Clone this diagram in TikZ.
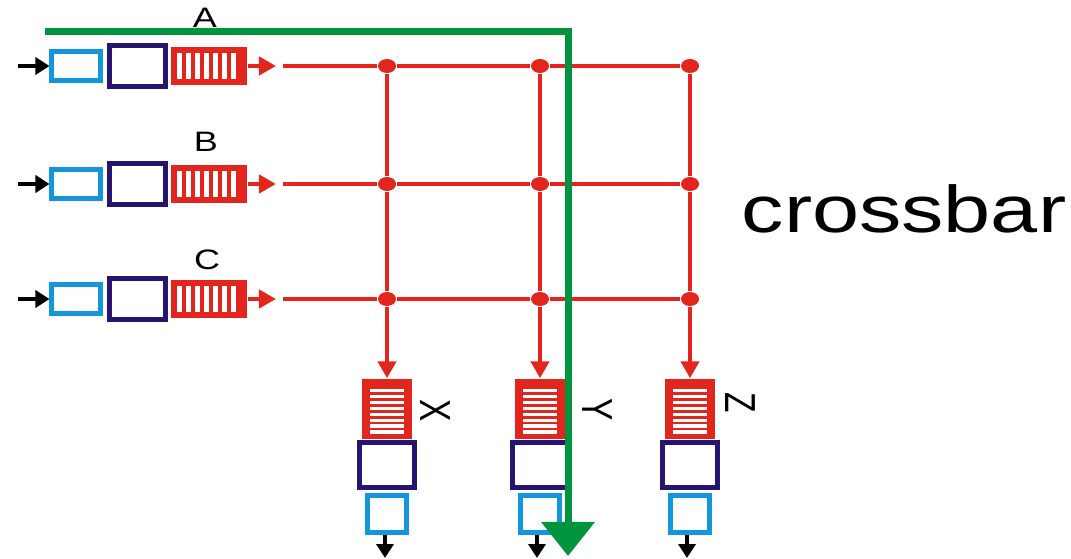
\documentclass[tikz,border=0pt]{standalone}
\usepackage{fontspec}
\setmainfont{Liberation Sans}
\newfontfamily\widefont[FakeStretch=1.28]{Liberation Sans}
\usepackage{graphicx}
\usetikzlibrary{arrows.meta,positioning,shapes.geometric}
\definecolor{qred}{RGB}{226,38,30}
\definecolor{lblue}{RGB}{20,150,220}
\definecolor{navy}{RGB}{38,20,112}
\definecolor{grn}{RGB}{0,148,62}

\begin{document}
\begin{tikzpicture}[x=0.01cm, y=-0.01cm,
		inbox/.style={draw=lblue, line width=0.05cm, minimum width=0.48cm, minimum height=0.28cm, inner sep=0pt},
		bufbox/.style={draw=navy, line width=0.05cm, minimum width=0.56cm, minimum height=0.40cm, inner sep=0pt},
		inq/.style={fill=qred, minimum width=0.76cm, minimum height=0.38cm, inner sep=0pt,
			path picture={\draw[white, line width=0.25cm, dash pattern=on 0.05cm off 0.04cm]
				([xshift=0.06cm]path picture bounding box.west) -- ([xshift=0.65cm]path picture bounding box.west);}},
		outq/.style={fill=qred, minimum width=0.50cm, minimum height=0.60cm, inner sep=0pt,
			path picture={\draw[white, line width=0.34cm, dash pattern=on 0.034cm off 0.025cm]
				([yshift=-0.10cm]path picture bounding box.north) -- ([yshift=-0.55cm]path picture bounding box.north);}},
		outbuf/.style={draw=navy, line width=0.05cm, minimum width=0.55cm, minimum height=0.45cm, inner sep=0pt},
		outbox/.style={draw=lblue, line width=0.05cm, minimum width=0.39cm, minimum height=0.37cm, inner sep=0pt},
		jdot/.style={ellipse, fill=qred, minimum width=0.18cm, minimum height=0.14cm, inner sep=0pt},
		rline/.style={draw=qred, line width=0.045cm},
		rarrow/.style={rline, -{Triangle[length=0.17cm,width=0.18cm]}},
		barrow/.style={draw=black, line width=0.035cm, -{Triangle[length=0.14cm,width=0.17cm]}},
		gpath/.style={draw=grn, line width=0.07cm, -{Triangle[length=0.34cm,width=0.52cm]}},
		lbl/.style={font=\widefont\fontsize{8}{9}\selectfont, inner sep=0pt, anchor=base},
		rlbl/.style={font=\fontsize{9.5}{11}\selectfont, inner sep=0pt, rotate=-90}]
	\useasboundingbox (0,0) rectangle (1071,558);
	
	%%%%% INPUTS %%%%%
	\node[inbox] (inA) at (76,66) {};
	\node[bufbox, right=0.04cm of inA] (bufA) {};
	\node[inq, right=0.03cm of bufA] (qA) {};
	\node[lbl] (labA) at (205,28) {A};
	
	\node[inbox] (inB) at (76,184) {};
	\node[bufbox, right=0.04cm of inB] (bufB) {};
	\node[inq, right=0.03cm of bufB] (qB) {};
	\node[lbl] (labB) at (206,152) {B};
	
	\node[inbox] (inC) at (76,299) {};
	\node[bufbox, right=0.04cm of inC] (bufC) {};
	\node[inq, right=0.03cm of bufC] (qC) {};
	\node[lbl] (labC) at (207,269) {C};
	
	\coordinate (sA) at (18,66);
	\coordinate (sB) at (18,184);
	\coordinate (sC) at (18,299);
	\draw[barrow] (sA) -- (inA);
	\draw[barrow] (sB) -- (inB);
	\draw[barrow] (sC) -- (inC);
	
	\coordinate (tA) at (276,66);
	\coordinate (tB) at (276,184);
	\coordinate (tC) at (276,299);
	\draw[rarrow] (qA) -- (tA);
	\draw[rarrow] (qB) -- (tB);
	\draw[rarrow] (qC) -- (tC);
	
	%%%%% GRID %%%%%
	\node[jdot] (jAX) at (387,66) {};
	\node[jdot] (jAY) at (540,66) {};
	\node[jdot] (jAZ) at (690,66) {};
	\node[jdot] (jBX) at (387,184) {};
	\node[jdot] (jBY) at (540,184) {};
	\node[jdot] (jBZ) at (690,184) {};
	\node[jdot] (jCX) at (387,299) {};
	\node[jdot] (jCY) at (540,299) {};
	\node[jdot] (jCZ) at (690,299) {};
	
	\coordinate (hA) at (283,66);
	\coordinate (hB) at (283,184);
	\coordinate (hC) at (283,299);
	\draw[rline] (hA) -- (jAX) -- (jAY) -- (jAZ);
	\draw[rline] (hB) -- (jBX) -- (jBY) -- (jBZ);
	\draw[rline] (hC) -- (jCX) -- (jCY) -- (jCZ);
	
	\draw[rline] (jAX) -- (jBX) -- (jCX);
	\draw[rline] (jAY) -- (jBY) -- (jCY);
	\draw[rline] (jAZ) -- (jBZ) -- (jCZ);
	
	%%%%% OUTPUTS %%%%%
	\node[outq] (qX) at (387,409) {};
	\node[outbuf, below=0cm of qX] (bufX) {};
	\node[outbox, below=0.03cm of bufX] (outX) {};
	\node[rlbl] (labX) at (435,411) {\scalebox{1}[1.3]{X}};
	
	\node[outq] (qY) at (540,409) {};
	\node[outbuf, below=0cm of qY] (bufY) {};
	\node[outbox, below=0.03cm of bufY] (outY) {};
	\node[rlbl] (labY) at (597,410) {\scalebox{1}[1.3]{Y}};
	
	\node[outq] (qZ) at (690,409) {};
	\node[outbuf, below=0cm of qZ] (bufZ) {};
	\node[outbox, below=0.03cm of bufZ] (outZ) {};
	\node[rlbl] (labZ) at (740,403) {\scalebox{1}[1.3]{Z}};
	
	\draw[rarrow] (jCX) -- (qX);
	\draw[rarrow] (jCY) -- (qY);
	\draw[rarrow] (jCZ) -- (qZ);
	
	\coordinate (eX) at (385,558);
	\coordinate (eY) at (537,558);
	\coordinate (eZ) at (687,558);
	\draw[barrow] (outX.south -| eX) -- (eX);
	\draw[barrow] (outY.south -| eY) -- (eY);
	\draw[barrow] (outZ.south -| eZ) -- (eZ);
	
	%%%%% PATH %%%%%
	\coordinate (g1) at (45,32);
	\coordinate (g2) at (568,32);
	\coordinate (g3) at (568,556);
	\draw[gpath] (g1) -- (g2) -- (g3);
	
	\node[font=\widefont\fontsize{18.8}{22}\selectfont, inner sep=0pt, anchor=base] (title) at (904,232) {crossbar};
\end{tikzpicture}
\end{document}
